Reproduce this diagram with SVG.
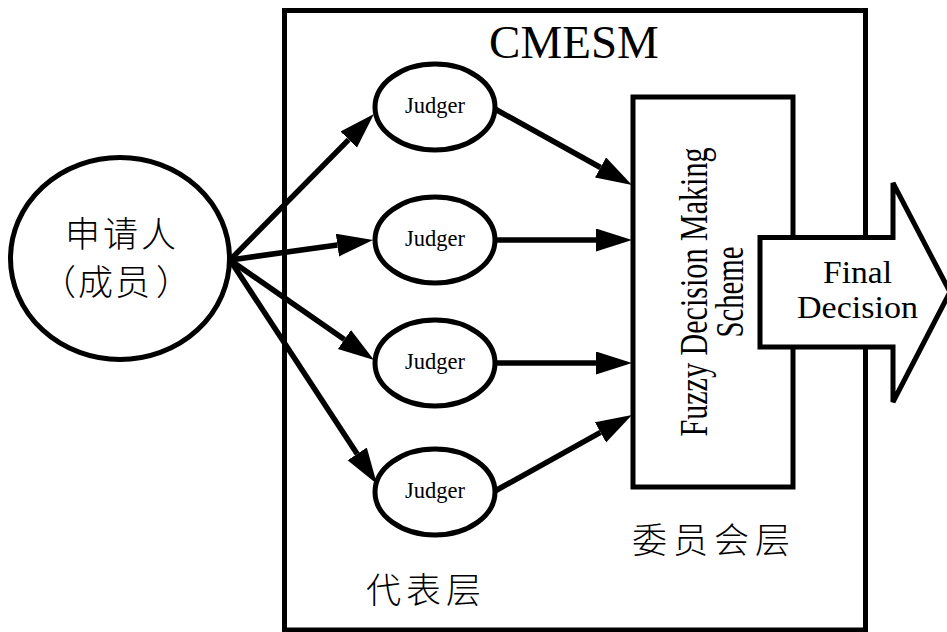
<svg xmlns="http://www.w3.org/2000/svg" width="947" height="632" viewBox="0 0 947 632">
  <style>
    .shape { fill: #fff; stroke: #000; stroke-width: 5; stroke-linejoin: miter; }
    .link { fill: none; stroke: #000; stroke-width: 5.5; }
    .en { font-family: "Liberation Serif", "Times New Roman", serif; fill: #000; }
    .zh { font-family: "Noto Sans CJK SC", "Noto Sans CJK JP", sans-serif; font-size: 35px; font-weight: 300; fill: #000; }
  </style>
  <defs>
    <!-- solid arrowhead; its base sits on the end of the line -->
    <marker id="head" markerUnits="userSpaceOnUse" markerWidth="38" markerHeight="24" refX="0" refY="11.5" orient="auto">
      <path d="M0,0 L36,11.5 L0,23 Z" fill="#000"/>
    </marker>
  </defs>
  <rect width="947" height="632" fill="#fff"/>

  <!-- system boundary -->
  <g id="cmesm">
    <rect class="shape" x="284.5" y="10.5" width="581" height="619.5"/>
    <text class="en" x="574" y="58" font-size="47" text-anchor="middle">CMESM</text>
    <text class="zh" x="366" y="603" letter-spacing="5">代表层</text>
    <text class="zh" x="632" y="553" letter-spacing="6">委员会层</text>
  </g>

  <!-- applicant -->
  <g id="applicant">
    <ellipse class="shape" cx="120" cy="258.5" rx="109.5" ry="101"/>
    <text class="zh" x="122" y="247" font-size="34" text-anchor="middle" letter-spacing="3">申请人</text>
    <text class="zh" y="295" font-size="34"><tspan x="41">（</tspan><tspan x="78" letter-spacing="2">成员</tspan><tspan x="156">）</tspan></text>
  </g>

  <!-- judgers -->
  <g id="judger1">
    <ellipse class="shape" cx="435" cy="107" rx="60" ry="43"/>
    <text class="en" x="435" y="113" font-size="22.5" text-anchor="middle">Judger</text>
  </g>
  <g id="judger2">
    <ellipse class="shape" cx="435" cy="240" rx="60" ry="43"/>
    <text class="en" x="435" y="246" font-size="22.5" text-anchor="middle">Judger</text>
  </g>
  <g id="judger3">
    <ellipse class="shape" cx="435" cy="363" rx="60" ry="43"/>
    <text class="en" x="435" y="369" font-size="22.5" text-anchor="middle">Judger</text>
  </g>
  <g id="judger4">
    <ellipse class="shape" cx="435" cy="492" rx="60" ry="43"/>
    <text class="en" x="435" y="498" font-size="22.5" text-anchor="middle">Judger</text>
  </g>

  <!-- fuzzy decision block -->
  <g id="fuzzy">
    <rect class="shape" x="633" y="97" width="160" height="390"/>
    <g transform="translate(707,292) rotate(-90)">
      <text class="en" x="0" y="0" font-size="39" text-anchor="middle" textLength="289" lengthAdjust="spacingAndGlyphs">Fuzzy Decision Making</text>
      <text class="en" x="0" y="36" font-size="39" text-anchor="middle" textLength="91" lengthAdjust="spacingAndGlyphs">Scheme</text>
    </g>
  </g>

  <!-- connectors -->
  <g id="connectors">
    <line class="link" x1="230" y1="260" x2="348.7" y2="139.6" marker-end="url(#head)"/>
    <line class="link" x1="230" y1="260" x2="337.4" y2="245" marker-end="url(#head)"/>
    <line class="link" x1="230" y1="260" x2="344.4" y2="339.5" marker-end="url(#head)"/>
    <line class="link" x1="230" y1="260" x2="357.2" y2="453.9" marker-end="url(#head)"/>
    <line class="link" x1="495" y1="109" x2="600.5" y2="167.5" marker-end="url(#head)"/>
    <line class="link" x1="495" y1="240" x2="596" y2="240" marker-end="url(#head)"/>
    <line class="link" x1="495" y1="363" x2="596" y2="363" marker-end="url(#head)"/>
    <line class="link" x1="495" y1="491" x2="600.5" y2="432.4" marker-end="url(#head)"/>
  </g>

  <!-- output arrow -->
  <g id="final-decision">
    <path class="shape" d="M760,237.5 L893,237.5 L893,183 L950,292 L893,402 L893,347 L760,347 Z"/>
    <text class="en" x="857.5" y="283" font-size="32" text-anchor="middle" textLength="69" lengthAdjust="spacingAndGlyphs">Final</text>
    <text class="en" x="857.5" y="318" font-size="32" text-anchor="middle" textLength="121" lengthAdjust="spacingAndGlyphs">Decision</text>
  </g>
</svg>
